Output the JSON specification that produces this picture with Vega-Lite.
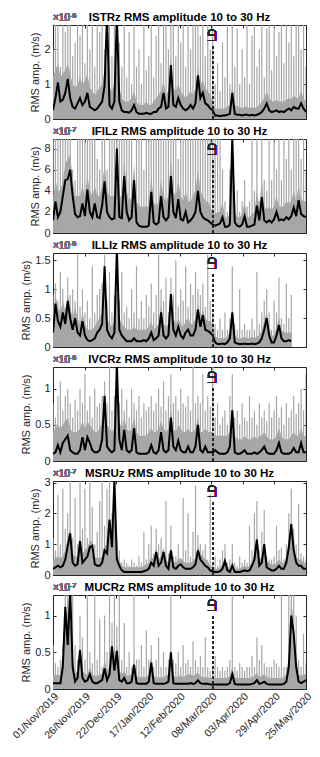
{
"$schema": "https://vega.github.io/schema/vega-lite/v6.json",
"padding": {"left": 10, "top": 11, "right": 13, "bottom": 2},
"background": "white",
"config": {
  "view": {"stroke": "#262626", "strokeWidth": 1},
  "font": "Liberation Sans",
  "axis": {"labelFont": "Liberation Sans", "labelFontSize": 11, "labelColor": "#262626", "titleFont": "Liberation Sans", "titleFontSize": 11, "titleFontWeight": "normal", "titleColor": "#262626", "tickColor": "#262626", "grid": false, "domain": false, "tickSize": -3, "labelPadding": 6, "titlePadding": 3, "minExtent": 0, "labelOverlap": false},
  "title": {"font": "Liberation Sans", "fontSize": 11.5, "fontWeight": "bold", "color": "#000000", "offset": -11, "anchor": "middle", "frame": "group"}
},
"datasets": {"d": [
{"t":"2019-11-01","Am":0.25,"Au":1.2,"Ah":2,"Bm":1.2,"Bu":3,"Bh":9,"Cm":0.25,"Cu":0.6,"Ch":0.9,"Dm":0.1,"Du":0.4,"Dh":0.8,"Em":0.2,"Eu":0.5,"Eh":1.2,"Fm":0.08,"Fu":0.18,"Fh":0.6},
{"t":"2019-11-03","Am":0.6,"Au":1.4,"Ah":3,"Bm":3,"Bu":5,"Bh":9,"Cm":0.75,"Cu":0.9,"Ch":1.1,"Dm":0.12,"Du":0.45,"Dh":0.6,"Em":0.25,"Eu":0.55,"Eh":0.8,"Fm":0.08,"Fu":0.2,"Fh":0.35},
{"t":"2019-11-05","Am":1.05,"Au":1.6,"Ah":3,"Bm":1.5,"Bu":4,"Bh":9,"Cm":0.45,"Cu":0.7,"Ch":0.8,"Dm":0.22,"Du":0.5,"Dh":0.9,"Em":0.3,"Eu":0.6,"Eh":2.6,"Fm":0.08,"Fu":0.18,"Fh":0.3},
{"t":"2019-11-07","Am":0.5,"Au":1.2,"Ah":1.5,"Bm":2,"Bu":4,"Bh":9,"Cm":0.35,"Cu":0.6,"Ch":1.3,"Dm":0.12,"Du":0.45,"Dh":1.1,"Em":0.25,"Eu":0.55,"Eh":1,"Fm":0.08,"Fu":0.2,"Fh":0.4},
{"t":"2019-11-09","Am":0.55,"Au":1.3,"Ah":3,"Bm":3.5,"Bu":5,"Bh":9,"Cm":0.6,"Cu":0.8,"Ch":1,"Dm":0.25,"Du":0.5,"Dh":0.7,"Em":0.3,"Eu":0.6,"Eh":2.8,"Fm":0.3,"Fu":0.5,"Fh":0.6},
{"t":"2019-11-11","Am":0.75,"Au":1.4,"Ah":2.5,"Bm":5,"Bu":6.5,"Bh":9,"Cm":0.4,"Cu":0.6,"Ch":0.7,"Dm":0.3,"Du":0.55,"Dh":0.9,"Em":0.5,"Eu":0.8,"Eh":1.5,"Fm":1.12,"Fu":1.2,"Fh":1.3},
{"t":"2019-11-13","Am":1.15,"Au":1.6,"Ah":3,"Bm":5.1,"Bu":7,"Bh":9,"Cm":0.8,"Cu":0.9,"Ch":1.2,"Dm":0.35,"Du":0.6,"Dh":1,"Em":0.95,"Eu":1.2,"Eh":2,"Fm":0.6,"Fu":0.8,"Fh":1.3},
{"t":"2019-11-15","Am":0.6,"Au":1.3,"Ah":3,"Bm":6,"Bu":7.5,"Bh":9,"Cm":0.5,"Cu":0.7,"Ch":0.9,"Dm":0.15,"Du":0.45,"Dh":0.8,"Em":1.35,"Eu":1.5,"Eh":3.1,"Fm":1.35,"Fu":1.3,"Fh":0.8},
{"t":"2019-11-17","Am":0.35,"Au":1,"Ah":1.8,"Bm":3.5,"Bu":5,"Bh":6,"Cm":0.3,"Cu":0.5,"Ch":1,"Dm":0.12,"Du":0.4,"Dh":0.6,"Em":0.4,"Eu":0.7,"Eh":1.2,"Fm":0.3,"Fu":0.5,"Fh":1.3},
{"t":"2019-11-19","Am":0.3,"Au":0.9,"Ah":2.2,"Bm":1.8,"Bu":3.5,"Bh":5,"Cm":0.5,"Cu":0.7,"Ch":0.8,"Dm":0.1,"Du":0.4,"Dh":0.85,"Em":0.3,"Eu":0.6,"Eh":2.5,"Fm":0.1,"Fu":0.2,"Fh":0.6},
{"t":"2019-11-21","Am":0.45,"Au":1,"Ah":3,"Bm":1.5,"Bu":3.5,"Bh":9,"Cm":0.25,"Cu":0.5,"Ch":1.6,"Dm":0.1,"Du":0.4,"Dh":0.7,"Em":0.35,"Eu":0.6,"Eh":1,"Fm":0.15,"Fu":0.25,"Fh":0.4},
{"t":"2019-11-23","Am":0.6,"Au":1.2,"Ah":2.4,"Bm":1.6,"Bu":3.5,"Bh":9,"Cm":0.2,"Cu":0.4,"Ch":0.7,"Dm":0.15,"Du":0.45,"Dh":1,"Em":1.1,"Eu":1.3,"Eh":3.1,"Fm":0.53,"Fu":0.6,"Fh":1},
{"t":"2019-11-25","Am":0.4,"Au":1,"Ah":3,"Bm":2.8,"Bu":4.5,"Bh":9,"Cm":0.45,"Cu":0.6,"Ch":1,"Dm":0.33,"Du":0.55,"Dh":0.8,"Em":0.4,"Eu":0.7,"Eh":1.5,"Fm":0.15,"Fu":0.25,"Fh":0.7},
{"t":"2019-11-27","Am":0.5,"Au":1.1,"Ah":1.6,"Bm":1.6,"Bu":3.5,"Bh":9,"Cm":0.2,"Cu":0.4,"Ch":0.6,"Dm":0.15,"Du":0.45,"Dh":1.2,"Em":0.5,"Eu":0.8,"Eh":2.8,"Fm":0.1,"Fu":0.2,"Fh":0.4},
{"t":"2019-11-29","Am":0.75,"Au":1.3,"Ah":3,"Bm":4.1,"Bu":5.5,"Bh":9,"Cm":0.12,"Cu":0.3,"Ch":0.8,"Dm":0.33,"Du":0.55,"Dh":0.7,"Em":0.6,"Eu":0.9,"Eh":1.2,"Fm":0.12,"Fu":0.2,"Fh":1.3},
{"t":"2019-12-01","Am":0.35,"Au":0.9,"Ah":2,"Bm":2,"Bu":4,"Bh":9,"Cm":0.1,"Cu":0.3,"Ch":0.5,"Dm":0.25,"Du":0.5,"Dh":0.9,"Em":0.9,"Eu":1.1,"Eh":3.1,"Fm":0.2,"Fu":0.3,"Fh":0.5},
{"t":"2019-12-03","Am":0.3,"Au":0.8,"Ah":3,"Bm":1.5,"Bu":3.5,"Bh":9,"Cm":0.12,"Cu":0.3,"Ch":1.4,"Dm":0.15,"Du":0.45,"Dh":0.6,"Em":0.95,"Eu":1.1,"Eh":2.2,"Fm":0.1,"Fu":0.2,"Fh":0.35},
{"t":"2019-12-05","Am":0.25,"Au":0.7,"Ah":1.5,"Bm":2.8,"Bu":4.5,"Bh":9,"Cm":0.15,"Cu":0.35,"Ch":0.6,"Dm":0.12,"Du":0.4,"Dh":1,"Em":0.35,"Eu":0.6,"Eh":1,"Fm":0.08,"Fu":0.18,"Fh":1.3},
{"t":"2019-12-07","Am":0.3,"Au":0.8,"Ah":3,"Bm":1.5,"Bu":3.5,"Bh":7,"Cm":0.25,"Cu":0.45,"Ch":0.9,"Dm":0.12,"Du":0.4,"Dh":0.75,"Em":0.3,"Eu":0.55,"Eh":1.4,"Fm":0.08,"Fu":0.18,"Fh":0.4},
{"t":"2019-12-09","Am":0.4,"Au":0.9,"Ah":2.5,"Bm":1.4,"Bu":3.5,"Bh":6,"Cm":0.3,"Cu":0.5,"Ch":1,"Dm":0.15,"Du":0.45,"Dh":0.8,"Em":0.3,"Eu":0.55,"Eh":2.4,"Fm":0.1,"Fu":0.2,"Fh":0.95},
{"t":"2019-12-11","Am":0.5,"Au":1,"Ah":3,"Bm":2.6,"Bu":4.5,"Bh":9,"Cm":0.4,"Cu":0.6,"Ch":1.1,"Dm":0.3,"Du":0.55,"Dh":0.9,"Em":0.4,"Eu":0.6,"Eh":3.1,"Fm":0.12,"Fu":0.2,"Fh":0.3},
{"t":"2019-12-13","Am":0.95,"Au":1.4,"Ah":2,"Bm":4.9,"Bu":6.5,"Bh":9,"Cm":1.4,"Cu":1,"Ch":1.6,"Dm":0.9,"Du":1,"Dh":1.1,"Em":0.8,"Eu":1,"Eh":1.6,"Fm":0.28,"Fu":0.4,"Fh":1},
{"t":"2019-12-15","Am":3,"Au":1.5,"Ah":3,"Bm":2,"Bu":4,"Bh":6,"Cm":0.3,"Cu":0.5,"Ch":0.8,"Dm":0.2,"Du":0.5,"Dh":0.8,"Em":0.7,"Eu":0.9,"Eh":2.8,"Fm":0.12,"Fu":0.25,"Fh":0.5},
{"t":"2019-12-17","Am":0.4,"Au":0.9,"Ah":3,"Bm":1.5,"Bu":3.5,"Bh":9,"Cm":0.2,"Cu":0.4,"Ch":1.3,"Dm":0.15,"Du":0.45,"Dh":1.3,"Em":1.8,"Eu":1.9,"Eh":3.1,"Fm":0.2,"Fu":0.3,"Fh":1.3},
{"t":"2019-12-19","Am":0.3,"Au":0.8,"Ah":1.8,"Bm":1.3,"Bu":3.5,"Bh":9,"Cm":0.15,"Cu":0.35,"Ch":0.6,"Dm":0.12,"Du":0.4,"Dh":0.7,"Em":0.9,"Eu":1.1,"Eh":2,"Fm":0.58,"Fu":0.65,"Fh":0.9},
{"t":"2019-12-21","Am":0.5,"Au":1,"Ah":3,"Bm":1.4,"Bu":3.5,"Bh":9,"Cm":0.25,"Cu":0.45,"Ch":0.9,"Dm":0.15,"Du":0.45,"Dh":0.9,"Em":3.1,"Eu":2,"Eh":3.1,"Fm":0.25,"Fu":0.4,"Fh":1.3},
{"t":"2019-12-23","Am":3,"Au":1.5,"Ah":3,"Bm":8,"Bu":9,"Bh":9,"Cm":1.7,"Cu":1,"Ch":1.7,"Dm":1.35,"Du":1.2,"Dh":1.35,"Em":0.5,"Eu":0.7,"Eh":1.2,"Fm":0.52,"Fu":0.6,"Fh":0.85},
{"t":"2019-12-25","Am":0.5,"Au":0.9,"Ah":2.2,"Bm":1.5,"Bu":3.5,"Bh":9,"Cm":0.3,"Cu":0.5,"Ch":0.8,"Dm":0.3,"Du":0.55,"Dh":0.8,"Em":0.3,"Eu":0.5,"Eh":0.8,"Fm":0.12,"Fu":0.25,"Fh":1.3},
{"t":"2019-12-27","Am":0.25,"Au":0.6,"Ah":1.5,"Bm":1.4,"Bu":3.5,"Bh":9,"Cm":0.2,"Cu":0.4,"Ch":1.3,"Dm":0.15,"Du":0.45,"Dh":1,"Em":0.15,"Eu":0.3,"Eh":0.4,"Fm":0.1,"Fu":0.2,"Fh":0.4},
{"t":"2019-12-29","Am":0.2,"Au":0.5,"Ah":3,"Bm":5.4,"Bu":7,"Bh":9,"Cm":0.15,"Cu":0.35,"Ch":0.6,"Dm":0.43,"Du":0.6,"Dh":0.7,"Em":0.1,"Eu":0.25,"Eh":0.5,"Fm":0.15,"Fu":0.25,"Fh":0.9},
{"t":"2019-12-31","Am":0.2,"Au":0.5,"Ah":1.2,"Bm":2,"Bu":4,"Bh":9,"Cm":0.1,"Cu":0.3,"Ch":0.7,"Dm":0.15,"Du":0.45,"Dh":0.85,"Em":0.1,"Eu":0.25,"Eh":0.4,"Fm":0.08,"Fu":0.18,"Fh":0.3},
{"t":"2020-01-02","Am":0.18,"Au":0.5,"Ah":2.5,"Bm":1.2,"Bu":3,"Bh":9,"Cm":0.1,"Cu":0.3,"Ch":0.5,"Dm":0.12,"Du":0.4,"Dh":0.6,"Em":0.1,"Eu":0.25,"Eh":0.3,"Fm":0.08,"Fu":0.18,"Fh":0.5},
{"t":"2020-01-04","Am":0.25,"Au":0.6,"Ah":1,"Bm":1.5,"Bu":3.5,"Bh":9,"Cm":0.1,"Cu":0.3,"Ch":1,"Dm":0.15,"Du":0.45,"Dh":1,"Em":0.1,"Eu":0.25,"Eh":0.5,"Fm":0.1,"Fu":0.2,"Fh":0.3},
{"t":"2020-01-06","Am":0.4,"Au":0.8,"Ah":3,"Bm":5,"Bu":6.5,"Bh":5,"Cm":0.15,"Cu":0.35,"Ch":0.6,"Dm":0.45,"Du":0.6,"Dh":0.8,"Em":0.1,"Eu":0.25,"Eh":0.4,"Fm":0.33,"Fu":0.4,"Fh":1.3},
{"t":"2020-01-08","Am":0.2,"Au":0.5,"Ah":1.5,"Bm":1,"Bu":3,"Bh":9,"Cm":0.1,"Cu":0.3,"Ch":1.4,"Dm":0.12,"Du":0.4,"Dh":0.7,"Em":0.1,"Eu":0.25,"Eh":0.3,"Fm":0.08,"Fu":0.18,"Fh":0.4},
{"t":"2020-01-10","Am":0.15,"Au":0.4,"Ah":2,"Bm":0.7,"Bu":2.5,"Bh":9,"Cm":0.1,"Cu":0.3,"Ch":0.5,"Dm":0.1,"Du":0.35,"Dh":0.9,"Em":0.1,"Eu":0.25,"Eh":0.6,"Fm":0.07,"Fu":0.16,"Fh":0.4},
{"t":"2020-01-12","Am":0.15,"Au":0.4,"Ah":1,"Bm":0.6,"Bu":2.5,"Bh":9,"Cm":0.1,"Cu":0.3,"Ch":0.8,"Dm":0.1,"Du":0.35,"Dh":0.6,"Em":0.1,"Eu":0.25,"Eh":0.4,"Fm":0.07,"Fu":0.16,"Fh":0.6},
{"t":"2020-01-14","Am":0.15,"Au":0.4,"Ah":3,"Bm":0.6,"Bu":2.5,"Bh":6,"Cm":0.12,"Cu":0.3,"Ch":0.5,"Dm":0.1,"Du":0.35,"Dh":0.8,"Em":0.12,"Eu":0.3,"Eh":1.4,"Fm":0.07,"Fu":0.16,"Fh":0.3},
{"t":"2020-01-16","Am":0.18,"Au":0.5,"Ah":1.4,"Bm":0.6,"Bu":2.5,"Bh":9,"Cm":0.1,"Cu":0.3,"Ch":0.9,"Dm":0.1,"Du":0.35,"Dh":0.7,"Em":0.15,"Eu":0.35,"Eh":0.5,"Fm":0.07,"Fu":0.16,"Fh":0.8},
{"t":"2020-01-18","Am":0.15,"Au":0.4,"Ah":1.8,"Bm":0.7,"Bu":2.5,"Bh":9,"Cm":0.15,"Cu":0.35,"Ch":0.7,"Dm":0.12,"Du":0.4,"Dh":0.75,"Em":0.2,"Eu":0.4,"Eh":1,"Fm":0.1,"Fu":0.2,"Fh":0.4},
{"t":"2020-01-20","Am":0.15,"Au":0.4,"Ah":3,"Bm":3.9,"Bu":5.5,"Bh":9,"Cm":0.25,"Cu":0.45,"Ch":1.1,"Dm":0.22,"Du":0.45,"Dh":0.9,"Em":0.4,"Eu":0.6,"Eh":1.6,"Fm":0.36,"Fu":0.45,"Fh":0.6},
{"t":"2020-01-22","Am":0.2,"Au":0.5,"Ah":1.2,"Bm":1,"Bu":3,"Bh":9,"Cm":0.12,"Cu":0.3,"Ch":0.6,"Dm":0.12,"Du":0.4,"Dh":0.7,"Em":0.3,"Eu":0.5,"Eh":0.7,"Fm":0.08,"Fu":0.18,"Fh":0.3},
{"t":"2020-01-24","Am":0.2,"Au":0.6,"Ah":2.4,"Bm":0.8,"Bu":2.5,"Bh":9,"Cm":0.15,"Cu":0.35,"Ch":0.9,"Dm":0.1,"Du":0.4,"Dh":0.8,"Em":0.75,"Eu":0.9,"Eh":1.5,"Fm":0.07,"Fu":0.16,"Fh":0.4},
{"t":"2020-01-26","Am":0.3,"Au":0.7,"Ah":3,"Bm":1,"Bu":3,"Bh":9,"Cm":0.2,"Cu":0.4,"Ch":1.6,"Dm":0.15,"Du":0.45,"Dh":1,"Em":0.3,"Eu":0.5,"Eh":1,"Fm":0.07,"Fu":0.16,"Fh":0.7},
{"t":"2020-01-28","Am":0.35,"Au":0.8,"Ah":1.6,"Bm":3.5,"Bu":5,"Bh":9,"Cm":0.6,"Cu":0.75,"Ch":1,"Dm":0.4,"Du":0.55,"Dh":0.75,"Em":0.4,"Eu":0.6,"Eh":1.2,"Fm":0.07,"Fu":0.16,"Fh":0.3},
{"t":"2020-01-30","Am":0.75,"Au":1.1,"Ah":3,"Bm":1.5,"Bu":3.5,"Bh":9,"Cm":0.2,"Cu":0.4,"Ch":0.8,"Dm":0.15,"Du":0.45,"Dh":1.1,"Em":0.75,"Eu":0.9,"Eh":0.6,"Fm":0.07,"Fu":0.16,"Fh":0.5},
{"t":"2020-02-01","Am":0.3,"Au":0.7,"Ah":3,"Bm":1.2,"Bu":3,"Bh":9,"Cm":0.15,"Cu":0.35,"Ch":1.2,"Dm":0.12,"Du":0.4,"Dh":0.7,"Em":0.3,"Eu":0.5,"Eh":2.4,"Fm":0.08,"Fu":0.18,"Fh":0.3},
{"t":"2020-02-03","Am":0.35,"Au":0.8,"Ah":2,"Bm":1.5,"Bu":3.5,"Bh":9,"Cm":0.2,"Cu":0.4,"Ch":0.6,"Dm":0.15,"Du":0.45,"Dh":0.9,"Em":0.2,"Eu":0.4,"Eh":0.7,"Fm":0.1,"Fu":0.2,"Fh":0.4},
{"t":"2020-02-05","Am":1.55,"Au":1.8,"Ah":3,"Bm":5.4,"Bu":7,"Bh":9,"Cm":0.92,"Cu":0.9,"Ch":1.2,"Dm":0.6,"Du":0.7,"Dh":1.2,"Em":0.8,"Eu":0.9,"Eh":1.6,"Fm":0.5,"Fu":0.55,"Fh":1.3},
{"t":"2020-02-07","Am":0.4,"Au":0.9,"Ah":3,"Bm":2,"Bu":4,"Bh":9,"Cm":0.3,"Cu":0.5,"Ch":0.9,"Dm":0.2,"Du":0.45,"Dh":0.8,"Em":0.25,"Eu":0.45,"Eh":0.6,"Fm":0.08,"Fu":0.18,"Fh":0.4},
{"t":"2020-02-09","Am":0.35,"Au":0.8,"Ah":1.8,"Bm":1.4,"Bu":3.5,"Bh":9,"Cm":0.2,"Cu":0.4,"Ch":1.5,"Dm":0.15,"Du":0.4,"Dh":0.9,"Em":0.2,"Eu":0.4,"Eh":0.6,"Fm":0.07,"Fu":0.16,"Fh":0.35},
{"t":"2020-02-11","Am":0.6,"Au":1,"Ah":3,"Bm":3.2,"Bu":5,"Bh":7,"Cm":0.35,"Cu":0.5,"Ch":0.7,"Dm":0.28,"Du":0.5,"Dh":0.7,"Em":0.3,"Eu":0.5,"Eh":1,"Fm":0.07,"Fu":0.18,"Fh":0.5},
{"t":"2020-02-13","Am":0.4,"Au":0.8,"Ah":2.2,"Bm":1.3,"Bu":3.5,"Bh":9,"Cm":0.2,"Cu":0.4,"Ch":1,"Dm":0.15,"Du":0.45,"Dh":1,"Em":0.35,"Eu":0.55,"Eh":0.5,"Fm":0.07,"Fu":0.18,"Fh":0.3},
{"t":"2020-02-15","Am":0.3,"Au":0.7,"Ah":3,"Bm":1.2,"Bu":3,"Bh":9,"Cm":0.15,"Cu":0.35,"Ch":0.8,"Dm":0.12,"Du":0.4,"Dh":0.8,"Em":0.25,"Eu":0.45,"Eh":2.5,"Fm":0.07,"Fu":0.16,"Fh":0.6},
{"t":"2020-02-17","Am":0.25,"Au":0.6,"Ah":1.5,"Bm":2,"Bu":4,"Bh":9,"Cm":0.25,"Cu":0.45,"Ch":1.4,"Dm":0.12,"Du":0.4,"Dh":0.75,"Em":0.2,"Eu":0.4,"Eh":0.8,"Fm":0.07,"Fu":0.18,"Fh":0.35},
{"t":"2020-02-19","Am":0.3,"Au":0.7,"Ah":3,"Bm":1,"Bu":3,"Bh":9,"Cm":0.3,"Cu":0.5,"Ch":0.7,"Dm":0.2,"Du":0.45,"Dh":0.9,"Em":0.2,"Eu":0.4,"Eh":2,"Fm":0.07,"Fu":0.2,"Fh":0.4},
{"t":"2020-02-21","Am":0.4,"Au":0.8,"Ah":2,"Bm":1.2,"Bu":3,"Bh":9,"Cm":0.2,"Cu":0.4,"Ch":1.1,"Dm":0.12,"Du":0.4,"Dh":0.7,"Em":0.2,"Eu":0.4,"Eh":0.6,"Fm":0.08,"Fu":0.2,"Fh":0.3},
{"t":"2020-02-23","Am":0.3,"Au":0.7,"Ah":3,"Bm":1.5,"Bu":3.5,"Bh":9,"Cm":0.2,"Cu":0.4,"Ch":0.9,"Dm":0.12,"Du":0.4,"Dh":1.3,"Em":0.25,"Eu":0.45,"Eh":1.4,"Fm":0.07,"Fu":0.18,"Fh":0.65},
{"t":"2020-02-25","Am":0.45,"Au":0.9,"Ah":3,"Bm":2,"Bu":4,"Bh":9,"Cm":0.3,"Cu":0.5,"Ch":1.3,"Dm":0.2,"Du":0.45,"Dh":0.8,"Em":0.35,"Eu":0.55,"Eh":2.9,"Fm":0.08,"Fu":0.2,"Fh":0.4},
{"t":"2020-02-27","Am":1.25,"Au":1.5,"Ah":3,"Bm":4,"Bu":6,"Bh":9,"Cm":0.65,"Cu":0.75,"Ch":1,"Dm":0.5,"Du":0.6,"Dh":0.9,"Em":0.8,"Eu":0.95,"Eh":1.3,"Fm":0.12,"Fu":0.22,"Fh":0.3},
{"t":"2020-02-29","Am":0.6,"Au":1,"Ah":2.4,"Bm":2,"Bu":4,"Bh":9,"Cm":0.35,"Cu":0.5,"Ch":0.9,"Dm":0.15,"Du":0.4,"Dh":0.8,"Em":0.5,"Eu":0.7,"Eh":1,"Fm":0.08,"Fu":0.18,"Fh":0.45},
{"t":"2020-03-02","Am":0.75,"Au":1.1,"Ah":3,"Bm":1.5,"Bu":3.5,"Bh":9,"Cm":0.55,"Cu":0.65,"Ch":1.1,"Dm":0.12,"Du":0.4,"Dh":1.2,"Em":0.4,"Eu":0.6,"Eh":0.8,"Fm":0.07,"Fu":0.16,"Fh":0.3},
{"t":"2020-03-04","Am":0.45,"Au":0.9,"Ah":1.8,"Bm":1.3,"Bu":3,"Bh":9,"Cm":0.3,"Cu":0.5,"Ch":0.7,"Dm":0.2,"Du":0.45,"Dh":0.7,"Em":0.3,"Eu":0.5,"Eh":1,"Fm":0.07,"Fu":0.16,"Fh":0.7},
{"t":"2020-03-06","Am":0.4,"Au":0.8,"Ah":3,"Bm":1.2,"Bu":3,"Bh":9,"Cm":0.28,"Cu":0.45,"Ch":1.6,"Dm":0.12,"Du":0.4,"Dh":0.9,"Em":0.25,"Eu":0.45,"Eh":0.5,"Fm":0.07,"Fu":0.16,"Fh":0.3},
{"t":"2020-03-08","Am":0.3,"Au":0.7,"Ah":2,"Bm":1,"Bu":2.5,"Bh":9,"Cm":0.25,"Cu":0.45,"Ch":0.8,"Dm":0.12,"Du":0.4,"Dh":0.75,"Em":0.15,"Eu":0.3,"Eh":2.6,"Fm":0.06,"Fu":0.15,"Fh":0.25},
{"t":"2020-03-10","Am":0.25,"Au":0.5,"Ah":3,"Bm":0.8,"Bu":2,"Bh":9,"Cm":0.2,"Cu":0.4,"Ch":0.6,"Dm":0.12,"Du":0.4,"Dh":1.3,"Em":0.12,"Eu":0.25,"Eh":0.4,"Fm":0.06,"Fu":0.15,"Fh":0.3},
{"t":"2020-03-12","Am":0.1,"Au":0.3,"Ah":1,"Bm":0.7,"Bu":1.8,"Bh":9,"Cm":0.08,"Cu":0.2,"Ch":0.4,"Dm":0.15,"Du":0.35,"Dh":0.6,"Em":0.1,"Eu":0.2,"Eh":0.6,"Fm":0.06,"Fu":0.15,"Fh":0.45},
{"t":"2020-03-14","Am":0.1,"Au":0.3,"Ah":1.6,"Bm":0.8,"Bu":2,"Bh":9,"Cm":0.05,"Cu":0.15,"Ch":0.3,"Dm":0.12,"Du":0.35,"Dh":0.8,"Em":0.1,"Eu":0.2,"Eh":0.3,"Fm":0.06,"Fu":0.15,"Fh":0.3},
{"t":"2020-03-16","Am":0.08,"Au":0.3,"Ah":0.8,"Bm":0.9,"Bu":2,"Bh":9,"Cm":0.05,"Cu":0.15,"Ch":0.5,"Dm":0.1,"Du":0.35,"Dh":0.5,"Em":0.12,"Eu":0.25,"Eh":0.5,"Fm":0.06,"Fu":0.15,"Fh":0.25},
{"t":"2020-03-18","Am":0.1,"Au":0.3,"Ah":2.2,"Bm":1.5,"Bu":3,"Bh":6,"Cm":0.06,"Cu":0.15,"Ch":0.3,"Dm":0.1,"Du":0.35,"Dh":0.6,"Em":0.2,"Eu":0.35,"Eh":0.8,"Fm":0.06,"Fu":0.15,"Fh":0.3},
{"t":"2020-03-20","Am":0.1,"Au":0.3,"Ah":1.2,"Bm":0.6,"Bu":1.5,"Bh":3,"Cm":0.05,"Cu":0.15,"Ch":0.6,"Dm":0.1,"Du":0.35,"Dh":0.7,"Em":0.45,"Eu":0.6,"Eh":1,"Fm":0.06,"Fu":0.15,"Fh":0.25},
{"t":"2020-03-22","Am":0.12,"Au":0.35,"Ah":2.8,"Bm":0.6,"Bu":1.5,"Bh":2,"Cm":0.08,"Cu":0.18,"Ch":0.3,"Dm":0.12,"Du":0.35,"Dh":0.5,"Em":0.15,"Eu":0.3,"Eh":0.4,"Fm":0.06,"Fu":0.15,"Fh":0.3},
{"t":"2020-03-24","Am":0.15,"Au":0.4,"Ah":1,"Bm":0.8,"Bu":1.8,"Bh":6,"Cm":0.15,"Cu":0.25,"Ch":0.5,"Dm":0.2,"Du":0.4,"Dh":0.9,"Em":0.1,"Eu":0.2,"Eh":0.5,"Fm":0.08,"Fu":0.18,"Fh":0.4},
{"t":"2020-03-26","Am":0.75,"Au":1,"Ah":3,"Bm":9,"Bu":9,"Bh":9,"Cm":0.6,"Cu":0.6,"Ch":1.4,"Dm":0.7,"Du":0.8,"Dh":1.2,"Em":0.3,"Eu":0.45,"Eh":1,"Fm":0.2,"Fu":0.3,"Fh":1.3},
{"t":"2020-03-28","Am":0.15,"Au":0.4,"Ah":1.5,"Bm":1,"Bu":2,"Bh":2.5,"Cm":0.08,"Cu":0.2,"Ch":0.4,"Dm":0.12,"Du":0.35,"Dh":0.6,"Em":0.1,"Eu":0.2,"Eh":0.4,"Fm":0.07,"Fu":0.16,"Fh":0.3},
{"t":"2020-03-30","Am":0.12,"Au":0.35,"Ah":2.6,"Bm":0.7,"Bu":1.5,"Bh":4,"Cm":0.06,"Cu":0.15,"Ch":0.3,"Dm":0.1,"Du":0.3,"Dh":0.7,"Em":0.1,"Eu":0.2,"Eh":0.3,"Fm":0.06,"Fu":0.15,"Fh":0.25},
{"t":"2020-04-01","Am":0.12,"Au":0.35,"Ah":1,"Bm":0.6,"Bu":1.5,"Bh":2,"Cm":0.05,"Cu":0.15,"Ch":1,"Dm":0.1,"Du":0.3,"Dh":0.5,"Em":0.1,"Eu":0.2,"Eh":0.6,"Fm":0.06,"Fu":0.15,"Fh":0.35},
{"t":"2020-04-03","Am":0.1,"Au":0.3,"Ah":2,"Bm":0.8,"Bu":1.8,"Bh":3,"Cm":0.05,"Cu":0.15,"Ch":0.3,"Dm":0.12,"Du":0.3,"Dh":0.8,"Em":0.12,"Eu":0.25,"Eh":0.4,"Fm":0.06,"Fu":0.15,"Fh":0.3},
{"t":"2020-04-05","Am":0.12,"Au":0.35,"Ah":1.2,"Bm":1.6,"Bu":3,"Bh":5,"Cm":0.06,"Cu":0.18,"Ch":0.4,"Dm":0.15,"Du":0.35,"Dh":0.6,"Em":0.15,"Eu":0.3,"Eh":0.5,"Fm":0.06,"Fu":0.15,"Fh":0.25},
{"t":"2020-04-07","Am":0.12,"Au":0.35,"Ah":3,"Bm":0.6,"Bu":1.5,"Bh":2.5,"Cm":0.05,"Cu":0.15,"Ch":0.3,"Dm":0.1,"Du":0.3,"Dh":0.55,"Em":0.12,"Eu":0.25,"Eh":0.4,"Fm":0.06,"Fu":0.15,"Fh":0.3},
{"t":"2020-04-09","Am":0.1,"Au":0.3,"Ah":1,"Bm":0.6,"Bu":1.5,"Bh":3,"Cm":0.05,"Cu":0.15,"Ch":0.3,"Dm":0.1,"Du":0.3,"Dh":0.9,"Em":0.15,"Eu":0.3,"Eh":1.6,"Fm":0.06,"Fu":0.15,"Fh":0.3},
{"t":"2020-04-11","Am":0.12,"Au":0.35,"Ah":2.4,"Bm":0.7,"Bu":1.8,"Bh":9,"Cm":0.06,"Cu":0.18,"Ch":0.5,"Dm":0.1,"Du":0.3,"Dh":0.6,"Em":0.3,"Eu":0.45,"Eh":0.8,"Fm":0.07,"Fu":0.16,"Fh":0.45},
{"t":"2020-04-13","Am":0.1,"Au":0.3,"Ah":3,"Bm":0.8,"Bu":2,"Bh":4,"Cm":0.05,"Cu":0.15,"Ch":0.3,"Dm":0.12,"Du":0.35,"Dh":0.7,"Em":0.5,"Eu":0.7,"Eh":2,"Fm":0.08,"Fu":0.18,"Fh":0.3},
{"t":"2020-04-15","Am":0.12,"Au":0.35,"Ah":1.5,"Bm":2.6,"Bu":4,"Bh":9,"Cm":0.06,"Cu":0.18,"Ch":1.3,"Dm":0.1,"Du":0.3,"Dh":0.5,"Em":1.15,"Eu":1.3,"Eh":2.4,"Fm":0.12,"Fu":0.22,"Fh":0.7},
{"t":"2020-04-17","Am":0.15,"Au":0.4,"Ah":2,"Bm":1.2,"Bu":2.5,"Bh":3,"Cm":0.08,"Cu":0.2,"Ch":0.4,"Dm":0.12,"Du":0.35,"Dh":0.8,"Em":0.3,"Eu":0.5,"Eh":0.8,"Fm":0.07,"Fu":0.16,"Fh":0.4},
{"t":"2020-04-19","Am":0.2,"Au":0.5,"Ah":3,"Bm":3.4,"Bu":5,"Bh":9,"Cm":0.15,"Cu":0.3,"Ch":0.6,"Dm":0.15,"Du":0.35,"Dh":0.6,"Em":0.4,"Eu":0.6,"Eh":1.4,"Fm":0.08,"Fu":0.18,"Fh":0.6},
{"t":"2020-04-21","Am":0.3,"Au":0.6,"Ah":1.2,"Bm":1.2,"Bu":2.5,"Bh":5,"Cm":0.3,"Cu":0.45,"Ch":0.8,"Dm":0.2,"Du":0.4,"Dh":0.7,"Em":1,"Eu":1.1,"Eh":2.1,"Fm":0.1,"Fu":0.2,"Fh":0.35},
{"t":"2020-04-23","Am":0.45,"Au":0.8,"Ah":2.6,"Bm":1,"Bu":2.2,"Bh":4,"Cm":0.5,"Cu":0.6,"Ch":1,"Dm":0.12,"Du":0.35,"Dh":0.55,"Em":0.25,"Eu":0.45,"Eh":0.6,"Fm":0.07,"Fu":0.16,"Fh":0.3},
{"t":"2020-04-25","Am":0.25,"Au":0.6,"Ah":3,"Bm":1.2,"Bu":2.5,"Bh":9,"Cm":0.2,"Cu":0.35,"Ch":0.6,"Dm":0.1,"Du":0.3,"Dh":0.8,"Em":0.2,"Eu":0.4,"Eh":0.5,"Fm":0.06,"Fu":0.15,"Fh":0.3},
{"t":"2020-04-27","Am":0.2,"Au":0.5,"Ah":1.4,"Bm":1,"Bu":2.2,"Bh":5,"Cm":0.08,"Cu":0.2,"Ch":0.3,"Dm":0.1,"Du":0.3,"Dh":0.6,"Em":0.15,"Eu":0.35,"Eh":0.5,"Fm":0.06,"Fu":0.15,"Fh":0.3},
{"t":"2020-04-29","Am":0.22,"Au":0.5,"Ah":3,"Bm":1.3,"Bu":2.5,"Bh":9,"Cm":0.08,"Cu":0.2,"Ch":0.8,"Dm":0.1,"Du":0.3,"Dh":0.7,"Em":0.15,"Eu":0.35,"Eh":0.6,"Fm":0.06,"Fu":0.15,"Fh":0.4},
{"t":"2020-05-01","Am":0.25,"Au":0.55,"Ah":1.8,"Bm":2,"Bu":3.5,"Bh":6,"Cm":0.2,"Cu":0.35,"Ch":0.6,"Dm":0.15,"Du":0.35,"Dh":0.9,"Em":0.2,"Eu":0.4,"Eh":1.6,"Fm":0.06,"Fu":0.15,"Fh":0.35},
{"t":"2020-05-03","Am":0.2,"Au":0.5,"Ah":2.5,"Bm":1.2,"Bu":2.5,"Bh":9,"Cm":0.38,"Cu":0.5,"Ch":1.2,"Dm":0.25,"Du":0.45,"Dh":0.6,"Em":0.3,"Eu":0.5,"Eh":0.8,"Fm":0.06,"Fu":0.15,"Fh":0.3},
{"t":"2020-05-05","Am":0.22,"Au":0.5,"Ah":3,"Bm":1.3,"Bu":2.5,"Bh":5,"Cm":0.15,"Cu":0.3,"Ch":0.5,"Dm":0.12,"Du":0.35,"Dh":0.75,"Em":0.2,"Eu":0.4,"Eh":0.9,"Fm":0.06,"Fu":0.15,"Fh":1.3},
{"t":"2020-05-07","Am":0.2,"Au":0.5,"Ah":1.6,"Bm":1.2,"Bu":2.5,"Bh":9,"Cm":0.1,"Cu":0.25,"Ch":0.4,"Dm":0.1,"Du":0.3,"Dh":0.5,"Em":0.2,"Eu":0.4,"Eh":0.5,"Fm":0.07,"Fu":0.16,"Fh":0.3},
{"t":"2020-05-09","Am":0.25,"Au":0.55,"Ah":3,"Bm":1.5,"Bu":3,"Bh":7,"Cm":0.1,"Cu":0.25,"Ch":1.1,"Dm":0.1,"Du":0.3,"Dh":0.8,"Em":0.4,"Eu":0.6,"Eh":1,"Fm":0.1,"Fu":0.2,"Fh":0.3},
{"t":"2020-05-11","Am":0.3,"Au":0.6,"Ah":2.2,"Bm":1.3,"Bu":2.8,"Bh":9,"Cm":0.12,"Cu":0.25,"Ch":0.5,"Dm":0.1,"Du":0.3,"Dh":0.6,"Em":0.9,"Eu":1,"Eh":2,"Fm":0.3,"Fu":0.45,"Fh":1.3},
{"t":"2020-05-13","Am":0.25,"Au":0.55,"Ah":3,"Bm":1.6,"Bu":3,"Bh":6,"Cm":0.1,"Cu":0.25,"Ch":0.9,"Dm":0.12,"Du":0.35,"Dh":0.7,"Em":1.65,"Eu":1.8,"Eh":2.8,"Fm":1,"Fu":1.2,"Fh":1.3},
{"t":"2020-05-15","Am":0.35,"Au":0.7,"Ah":1.8,"Bm":2.4,"Bu":4,"Bh":9,"Dm":0.18,"Du":0.4,"Dh":0.9,"Em":0.8,"Eu":1,"Eh":1.5,"Fm":0.75,"Fu":0.9,"Fh":1.3},
{"t":"2020-05-17","Am":0.3,"Au":0.6,"Ah":3,"Bm":1.6,"Bu":3,"Bh":9,"Dm":0.12,"Du":0.35,"Dh":0.65,"Em":0.4,"Eu":0.6,"Eh":1,"Fm":0.3,"Fu":0.45,"Fh":1},
{"t":"2020-05-19","Am":0.3,"Au":0.6,"Ah":3,"Bm":3.1,"Bu":4.5,"Bh":9,"Dm":0.12,"Du":0.35,"Dh":0.8,"Em":0.3,"Eu":0.5,"Eh":2.3,"Fm":0.1,"Fu":0.2,"Fh":0.4},
{"t":"2020-05-21","Am":0.45,"Au":0.8,"Ah":2,"Bm":1.8,"Bu":3.2,"Bh":7,"Dm":0.25,"Du":0.45,"Dh":1,"Em":0.3,"Eu":0.5,"Eh":0.7,"Fm":0.08,"Fu":0.18,"Fh":0.3},
{"t":"2020-05-23","Am":0.3,"Au":0.6,"Ah":3,"Bm":1.6,"Bu":3,"Bh":9,"Dm":0.12,"Du":0.35,"Dh":0.7,"Em":0.2,"Eu":0.4,"Eh":0.6,"Fm":0.1,"Fu":0.2,"Fh":0.75},
{"t":"2020-05-25","Am":0.2,"Au":0.5,"Ah":1.5,"Bm":1.5,"Bu":3,"Bh":6,"Dm":0.12,"Du":0.35,"Dh":1.2,"Em":0.2,"Eu":0.4,"Eh":0.5,"Fm":0.12,"Fu":0.2,"Fh":0.35}
]},
"spacing": 0,
"vconcat": [
{"width": 253, "height": 94, "data": {"name": "d"},
 "title": {"text": "ISTRz RMS amplitude 10 to 30 Hz"},
 "resolve": {"axis": {"x": "independent", "y": "independent"}},
 "layer": [
  {"mark": {"type": "area", "color": "#a6a6a6", "clip": true},
   "encoding": {"x": {"field": "t", "type": "temporal", "scale": {"type": "utc", "nice": false, "domain": [{"year": 2019, "month": 11, "date": 1, "utc": true}, {"year": 2020, "month": 5, "date": 25, "utc": true}]}, "axis": {"orient": "bottom", "labels": false, "title": null, "values": [{"year":2019,"month":11,"date":1,"utc":true},{"year":2019,"month":11,"date":26,"hours":18,"utc":true},{"year":2019,"month":12,"date":22,"hours":12,"utc":true},{"year":2020,"month":1,"date":17,"hours":6,"utc":true},{"year":2020,"month":2,"date":12,"utc":true},{"year":2020,"month":3,"date":8,"hours":18,"utc":true},{"year":2020,"month":4,"date":3,"hours":12,"utc":true},{"year":2020,"month":4,"date":29,"hours":6,"utc":true},{"year":2020,"month":5,"date":25,"utc":true}]}},
    "y": {"field": "Au", "type": "quantitative", "scale": {"domain": [0, 2.7], "nice": false}, "axis": {"title": "RMS amp. (m/s)", "values": [0, 1, 2], "format": "~g"}}}},
  {"mark": {"type": "rule", "color": "#a8a8a8", "strokeWidth": 1.2, "clip": true},
   "encoding": {"x": {"field": "t", "type": "temporal", "scale": {"type": "utc", "nice": false, "domain": [{"year": 2019, "month": 11, "date": 1, "utc": true}, {"year": 2020, "month": 5, "date": 25, "utc": true}]}, "axis": {"orient": "top", "labels": false, "title": null, "values": [{"year":2019,"month":11,"date":1,"utc":true},{"year":2019,"month":11,"date":26,"hours":18,"utc":true},{"year":2019,"month":12,"date":22,"hours":12,"utc":true},{"year":2020,"month":1,"date":17,"hours":6,"utc":true},{"year":2020,"month":2,"date":12,"utc":true},{"year":2020,"month":3,"date":8,"hours":18,"utc":true},{"year":2020,"month":4,"date":3,"hours":12,"utc":true},{"year":2020,"month":4,"date":29,"hours":6,"utc":true},{"year":2020,"month":5,"date":25,"utc":true}]}},
    "y": {"field": "Ah", "type": "quantitative", "scale": {"domain": [0, 2.7], "nice": false}, "axis": {"orient": "right", "labels": false, "title": null, "values": [0, 1, 2]}},
    "y2": {"datum": 0}}},
  {"mark": {"type": "line", "color": "#000000", "strokeWidth": 2, "clip": true},
   "encoding": {"x": {"field": "t", "type": "temporal", "axis": null}, "y": {"field": "Am", "type": "quantitative", "axis": null}}},
  {"mark": {"type": "rule", "color": "#262626", "strokeWidth": 1, "strokeDash": [3, 2]},
   "encoding": {"x": {"datum": {"year": 2020, "month": 3, "date": 10, "utc": true}, "type": "temporal", "axis": null}, "y": {"datum": 0, "type": "quantitative", "axis": null}, "y2": {"datum": 2.13}}},
  {"mark": {"type": "text", "text": "LD", "angle": -90, "align": "right", "baseline": "middle", "fontSize": 10, "dx": -4, "color": "#262626"},
   "encoding": {"x": {"datum": {"year": 2020, "month": 3, "date": 10, "utc": true}, "type": "temporal", "axis": null}, "y": {"datum": 2.7, "type": "quantitative", "axis": null}}},
  {"mark": {"type": "text", "text": "×10", "align": "left", "baseline": "bottom", "fontSize": 10, "dy": -2, "color": "#707070"},
   "encoding": {"x": {"datum": {"year": 2019, "month": 11, "date": 1, "utc": true}, "type": "temporal", "axis": null}, "y": {"datum": 2.7, "type": "quantitative", "axis": null}}},
  {"mark": {"type": "text", "text": "-6", "align": "left", "baseline": "bottom", "fontSize": 7, "dx": 17, "dy": -6, "color": "#707070"},
   "encoding": {"x": {"datum": {"year": 2019, "month": 11, "date": 1, "utc": true}, "type": "temporal", "axis": null}, "y": {"datum": 2.7, "type": "quantitative", "axis": null}}}
 ]},
{"width": 253, "height": 94, "data": {"name": "d"},
 "title": {"text": "IFILz RMS amplitude 10 to 30 Hz"},
 "resolve": {"axis": {"x": "independent", "y": "independent"}},
 "layer": [
  {"mark": {"type": "area", "color": "#a6a6a6", "clip": true},
   "encoding": {"x": {"field": "t", "type": "temporal", "scale": {"type": "utc", "nice": false, "domain": [{"year": 2019, "month": 11, "date": 1, "utc": true}, {"year": 2020, "month": 5, "date": 25, "utc": true}]}, "axis": {"orient": "bottom", "labels": false, "title": null, "values": [{"year":2019,"month":11,"date":1,"utc":true},{"year":2019,"month":11,"date":26,"hours":18,"utc":true},{"year":2019,"month":12,"date":22,"hours":12,"utc":true},{"year":2020,"month":1,"date":17,"hours":6,"utc":true},{"year":2020,"month":2,"date":12,"utc":true},{"year":2020,"month":3,"date":8,"hours":18,"utc":true},{"year":2020,"month":4,"date":3,"hours":12,"utc":true},{"year":2020,"month":4,"date":29,"hours":6,"utc":true},{"year":2020,"month":5,"date":25,"utc":true}]}},
    "y": {"field": "Bu", "type": "quantitative", "scale": {"domain": [0, 8.9], "nice": false}, "axis": {"title": "RMS amp. (m/s)", "values": [0, 2, 4, 6, 8], "format": "~g"}}}},
  {"mark": {"type": "rule", "color": "#a8a8a8", "strokeWidth": 1.2, "clip": true},
   "encoding": {"x": {"field": "t", "type": "temporal", "scale": {"type": "utc", "nice": false, "domain": [{"year": 2019, "month": 11, "date": 1, "utc": true}, {"year": 2020, "month": 5, "date": 25, "utc": true}]}, "axis": {"orient": "top", "labels": false, "title": null, "values": [{"year":2019,"month":11,"date":1,"utc":true},{"year":2019,"month":11,"date":26,"hours":18,"utc":true},{"year":2019,"month":12,"date":22,"hours":12,"utc":true},{"year":2020,"month":1,"date":17,"hours":6,"utc":true},{"year":2020,"month":2,"date":12,"utc":true},{"year":2020,"month":3,"date":8,"hours":18,"utc":true},{"year":2020,"month":4,"date":3,"hours":12,"utc":true},{"year":2020,"month":4,"date":29,"hours":6,"utc":true},{"year":2020,"month":5,"date":25,"utc":true}]}},
    "y": {"field": "Bh", "type": "quantitative", "scale": {"domain": [0, 8.9], "nice": false}, "axis": {"orient": "right", "labels": false, "title": null, "values": [0, 2, 4, 6, 8]}},
    "y2": {"datum": 0}}},
  {"mark": {"type": "line", "color": "#000000", "strokeWidth": 2, "clip": true},
   "encoding": {"x": {"field": "t", "type": "temporal", "axis": null}, "y": {"field": "Bm", "type": "quantitative", "axis": null}}},
  {"mark": {"type": "rule", "color": "#262626", "strokeWidth": 1, "strokeDash": [3, 2]},
   "encoding": {"x": {"datum": {"year": 2020, "month": 3, "date": 10, "utc": true}, "type": "temporal", "axis": null}, "y": {"datum": 0, "type": "quantitative", "axis": null}, "y2": {"datum": 7.0}}},
  {"mark": {"type": "text", "text": "LD", "angle": -90, "align": "right", "baseline": "middle", "fontSize": 10, "dx": -4, "color": "#262626"},
   "encoding": {"x": {"datum": {"year": 2020, "month": 3, "date": 10, "utc": true}, "type": "temporal", "axis": null}, "y": {"datum": 8.9, "type": "quantitative", "axis": null}}},
  {"mark": {"type": "text", "text": "×10", "align": "left", "baseline": "bottom", "fontSize": 10, "dy": -2, "color": "#707070"},
   "encoding": {"x": {"datum": {"year": 2019, "month": 11, "date": 1, "utc": true}, "type": "temporal", "axis": null}, "y": {"datum": 8.9, "type": "quantitative", "axis": null}}},
  {"mark": {"type": "text", "text": "-7", "align": "left", "baseline": "bottom", "fontSize": 7, "dx": 17, "dy": -6, "color": "#707070"},
   "encoding": {"x": {"datum": {"year": 2019, "month": 11, "date": 1, "utc": true}, "type": "temporal", "axis": null}, "y": {"datum": 8.9, "type": "quantitative", "axis": null}}}
 ]},
{"width": 253, "height": 94, "data": {"name": "d"},
 "title": {"text": "ILLIz RMS amplitude 10 to 30 Hz"},
 "resolve": {"axis": {"x": "independent", "y": "independent"}},
 "layer": [
  {"mark": {"type": "area", "color": "#a6a6a6", "clip": true},
   "encoding": {"x": {"field": "t", "type": "temporal", "scale": {"type": "utc", "nice": false, "domain": [{"year": 2019, "month": 11, "date": 1, "utc": true}, {"year": 2020, "month": 5, "date": 25, "utc": true}]}, "axis": {"orient": "bottom", "labels": false, "title": null, "values": [{"year":2019,"month":11,"date":1,"utc":true},{"year":2019,"month":11,"date":26,"hours":18,"utc":true},{"year":2019,"month":12,"date":22,"hours":12,"utc":true},{"year":2020,"month":1,"date":17,"hours":6,"utc":true},{"year":2020,"month":2,"date":12,"utc":true},{"year":2020,"month":3,"date":8,"hours":18,"utc":true},{"year":2020,"month":4,"date":3,"hours":12,"utc":true},{"year":2020,"month":4,"date":29,"hours":6,"utc":true},{"year":2020,"month":5,"date":25,"utc":true}]}},
    "y": {"field": "Cu", "type": "quantitative", "scale": {"domain": [0, 1.63], "nice": false}, "axis": {"title": "RMS amp. (m/s)", "values": [0, 0.5, 1, 1.5], "format": "~g"}}}},
  {"mark": {"type": "rule", "color": "#a8a8a8", "strokeWidth": 1.2, "clip": true},
   "encoding": {"x": {"field": "t", "type": "temporal", "scale": {"type": "utc", "nice": false, "domain": [{"year": 2019, "month": 11, "date": 1, "utc": true}, {"year": 2020, "month": 5, "date": 25, "utc": true}]}, "axis": {"orient": "top", "labels": false, "title": null, "values": [{"year":2019,"month":11,"date":1,"utc":true},{"year":2019,"month":11,"date":26,"hours":18,"utc":true},{"year":2019,"month":12,"date":22,"hours":12,"utc":true},{"year":2020,"month":1,"date":17,"hours":6,"utc":true},{"year":2020,"month":2,"date":12,"utc":true},{"year":2020,"month":3,"date":8,"hours":18,"utc":true},{"year":2020,"month":4,"date":3,"hours":12,"utc":true},{"year":2020,"month":4,"date":29,"hours":6,"utc":true},{"year":2020,"month":5,"date":25,"utc":true}]}},
    "y": {"field": "Ch", "type": "quantitative", "scale": {"domain": [0, 1.63], "nice": false}, "axis": {"orient": "right", "labels": false, "title": null, "values": [0, 0.5, 1, 1.5]}},
    "y2": {"datum": 0}}},
  {"mark": {"type": "line", "color": "#000000", "strokeWidth": 2, "clip": true},
   "encoding": {"x": {"field": "t", "type": "temporal", "axis": null}, "y": {"field": "Cm", "type": "quantitative", "axis": null}}},
  {"mark": {"type": "rule", "color": "#262626", "strokeWidth": 1, "strokeDash": [3, 2]},
   "encoding": {"x": {"datum": {"year": 2020, "month": 3, "date": 10, "utc": true}, "type": "temporal", "axis": null}, "y": {"datum": 0, "type": "quantitative", "axis": null}, "y2": {"datum": 1.29}}},
  {"mark": {"type": "text", "text": "LD", "angle": -90, "align": "right", "baseline": "middle", "fontSize": 10, "dx": -4, "color": "#262626"},
   "encoding": {"x": {"datum": {"year": 2020, "month": 3, "date": 10, "utc": true}, "type": "temporal", "axis": null}, "y": {"datum": 1.63, "type": "quantitative", "axis": null}}},
  {"mark": {"type": "text", "text": "×10", "align": "left", "baseline": "bottom", "fontSize": 10, "dy": -2, "color": "#707070"},
   "encoding": {"x": {"datum": {"year": 2019, "month": 11, "date": 1, "utc": true}, "type": "temporal", "axis": null}, "y": {"datum": 1.63, "type": "quantitative", "axis": null}}},
  {"mark": {"type": "text", "text": "-6", "align": "left", "baseline": "bottom", "fontSize": 7, "dx": 17, "dy": -6, "color": "#707070"},
   "encoding": {"x": {"datum": {"year": 2019, "month": 11, "date": 1, "utc": true}, "type": "temporal", "axis": null}, "y": {"datum": 1.63, "type": "quantitative", "axis": null}}}
 ]},
{"width": 253, "height": 94, "data": {"name": "d"},
 "title": {"text": "IVCRz RMS amplitude 10 to 30 Hz"},
 "resolve": {"axis": {"x": "independent", "y": "independent"}},
 "layer": [
  {"mark": {"type": "area", "color": "#a6a6a6", "clip": true},
   "encoding": {"x": {"field": "t", "type": "temporal", "scale": {"type": "utc", "nice": false, "domain": [{"year": 2019, "month": 11, "date": 1, "utc": true}, {"year": 2020, "month": 5, "date": 25, "utc": true}]}, "axis": {"orient": "bottom", "labels": false, "title": null, "values": [{"year":2019,"month":11,"date":1,"utc":true},{"year":2019,"month":11,"date":26,"hours":18,"utc":true},{"year":2019,"month":12,"date":22,"hours":12,"utc":true},{"year":2020,"month":1,"date":17,"hours":6,"utc":true},{"year":2020,"month":2,"date":12,"utc":true},{"year":2020,"month":3,"date":8,"hours":18,"utc":true},{"year":2020,"month":4,"date":3,"hours":12,"utc":true},{"year":2020,"month":4,"date":29,"hours":6,"utc":true},{"year":2020,"month":5,"date":25,"utc":true}]}},
    "y": {"field": "Du", "type": "quantitative", "scale": {"domain": [0, 1.3], "nice": false}, "axis": {"title": "RMS amp. (m/s)", "values": [0, 0.5, 1], "format": "~g"}}}},
  {"mark": {"type": "rule", "color": "#a8a8a8", "strokeWidth": 1.2, "clip": true},
   "encoding": {"x": {"field": "t", "type": "temporal", "scale": {"type": "utc", "nice": false, "domain": [{"year": 2019, "month": 11, "date": 1, "utc": true}, {"year": 2020, "month": 5, "date": 25, "utc": true}]}, "axis": {"orient": "top", "labels": false, "title": null, "values": [{"year":2019,"month":11,"date":1,"utc":true},{"year":2019,"month":11,"date":26,"hours":18,"utc":true},{"year":2019,"month":12,"date":22,"hours":12,"utc":true},{"year":2020,"month":1,"date":17,"hours":6,"utc":true},{"year":2020,"month":2,"date":12,"utc":true},{"year":2020,"month":3,"date":8,"hours":18,"utc":true},{"year":2020,"month":4,"date":3,"hours":12,"utc":true},{"year":2020,"month":4,"date":29,"hours":6,"utc":true},{"year":2020,"month":5,"date":25,"utc":true}]}},
    "y": {"field": "Dh", "type": "quantitative", "scale": {"domain": [0, 1.3], "nice": false}, "axis": {"orient": "right", "labels": false, "title": null, "values": [0, 0.5, 1]}},
    "y2": {"datum": 0}}},
  {"mark": {"type": "line", "color": "#000000", "strokeWidth": 2, "clip": true},
   "encoding": {"x": {"field": "t", "type": "temporal", "axis": null}, "y": {"field": "Dm", "type": "quantitative", "axis": null}}},
  {"mark": {"type": "rule", "color": "#262626", "strokeWidth": 1, "strokeDash": [3, 2]},
   "encoding": {"x": {"datum": {"year": 2020, "month": 3, "date": 10, "utc": true}, "type": "temporal", "axis": null}, "y": {"datum": 0, "type": "quantitative", "axis": null}, "y2": {"datum": 1.03}}},
  {"mark": {"type": "text", "text": "LD", "angle": -90, "align": "right", "baseline": "middle", "fontSize": 10, "dx": -4, "color": "#262626"},
   "encoding": {"x": {"datum": {"year": 2020, "month": 3, "date": 10, "utc": true}, "type": "temporal", "axis": null}, "y": {"datum": 1.3, "type": "quantitative", "axis": null}}},
  {"mark": {"type": "text", "text": "×10", "align": "left", "baseline": "bottom", "fontSize": 10, "dy": -2, "color": "#707070"},
   "encoding": {"x": {"datum": {"year": 2019, "month": 11, "date": 1, "utc": true}, "type": "temporal", "axis": null}, "y": {"datum": 1.3, "type": "quantitative", "axis": null}}},
  {"mark": {"type": "text", "text": "-6", "align": "left", "baseline": "bottom", "fontSize": 7, "dx": 17, "dy": -6, "color": "#707070"},
   "encoding": {"x": {"datum": {"year": 2019, "month": 11, "date": 1, "utc": true}, "type": "temporal", "axis": null}, "y": {"datum": 1.3, "type": "quantitative", "axis": null}}}
 ]},
{"width": 253, "height": 94, "data": {"name": "d"},
 "title": {"text": "MSRUz RMS amplitude 10 to 30 Hz"},
 "resolve": {"axis": {"x": "independent", "y": "independent"}},
 "layer": [
  {"mark": {"type": "area", "color": "#a6a6a6", "clip": true},
   "encoding": {"x": {"field": "t", "type": "temporal", "scale": {"type": "utc", "nice": false, "domain": [{"year": 2019, "month": 11, "date": 1, "utc": true}, {"year": 2020, "month": 5, "date": 25, "utc": true}]}, "axis": {"orient": "bottom", "labels": false, "title": null, "values": [{"year":2019,"month":11,"date":1,"utc":true},{"year":2019,"month":11,"date":26,"hours":18,"utc":true},{"year":2019,"month":12,"date":22,"hours":12,"utc":true},{"year":2020,"month":1,"date":17,"hours":6,"utc":true},{"year":2020,"month":2,"date":12,"utc":true},{"year":2020,"month":3,"date":8,"hours":18,"utc":true},{"year":2020,"month":4,"date":3,"hours":12,"utc":true},{"year":2020,"month":4,"date":29,"hours":6,"utc":true},{"year":2020,"month":5,"date":25,"utc":true}]}},
    "y": {"field": "Eu", "type": "quantitative", "scale": {"domain": [0, 3.05], "nice": false}, "axis": {"title": "RMS amp. (m/s)", "values": [0, 1, 2, 3], "format": "~g"}}}},
  {"mark": {"type": "rule", "color": "#a8a8a8", "strokeWidth": 1.2, "clip": true},
   "encoding": {"x": {"field": "t", "type": "temporal", "scale": {"type": "utc", "nice": false, "domain": [{"year": 2019, "month": 11, "date": 1, "utc": true}, {"year": 2020, "month": 5, "date": 25, "utc": true}]}, "axis": {"orient": "top", "labels": false, "title": null, "values": [{"year":2019,"month":11,"date":1,"utc":true},{"year":2019,"month":11,"date":26,"hours":18,"utc":true},{"year":2019,"month":12,"date":22,"hours":12,"utc":true},{"year":2020,"month":1,"date":17,"hours":6,"utc":true},{"year":2020,"month":2,"date":12,"utc":true},{"year":2020,"month":3,"date":8,"hours":18,"utc":true},{"year":2020,"month":4,"date":3,"hours":12,"utc":true},{"year":2020,"month":4,"date":29,"hours":6,"utc":true},{"year":2020,"month":5,"date":25,"utc":true}]}},
    "y": {"field": "Eh", "type": "quantitative", "scale": {"domain": [0, 3.05], "nice": false}, "axis": {"orient": "right", "labels": false, "title": null, "values": [0, 1, 2, 3]}},
    "y2": {"datum": 0}}},
  {"mark": {"type": "line", "color": "#000000", "strokeWidth": 2, "clip": true},
   "encoding": {"x": {"field": "t", "type": "temporal", "axis": null}, "y": {"field": "Em", "type": "quantitative", "axis": null}}},
  {"mark": {"type": "rule", "color": "#262626", "strokeWidth": 1, "strokeDash": [3, 2]},
   "encoding": {"x": {"datum": {"year": 2020, "month": 3, "date": 10, "utc": true}, "type": "temporal", "axis": null}, "y": {"datum": 0, "type": "quantitative", "axis": null}, "y2": {"datum": 2.4}}},
  {"mark": {"type": "text", "text": "LD", "angle": -90, "align": "right", "baseline": "middle", "fontSize": 10, "dx": -4, "color": "#262626"},
   "encoding": {"x": {"datum": {"year": 2020, "month": 3, "date": 10, "utc": true}, "type": "temporal", "axis": null}, "y": {"datum": 3.05, "type": "quantitative", "axis": null}}},
  {"mark": {"type": "text", "text": "×10", "align": "left", "baseline": "bottom", "fontSize": 10, "dy": -2, "color": "#707070"},
   "encoding": {"x": {"datum": {"year": 2019, "month": 11, "date": 1, "utc": true}, "type": "temporal", "axis": null}, "y": {"datum": 3.05, "type": "quantitative", "axis": null}}},
  {"mark": {"type": "text", "text": "-7", "align": "left", "baseline": "bottom", "fontSize": 7, "dx": 17, "dy": -6, "color": "#707070"},
   "encoding": {"x": {"datum": {"year": 2019, "month": 11, "date": 1, "utc": true}, "type": "temporal", "axis": null}, "y": {"datum": 3.05, "type": "quantitative", "axis": null}}}
 ]},
{"width": 253, "height": 94, "data": {"name": "d"},
 "title": {"text": "MUCRz RMS amplitude 10 to 30 Hz"},
 "resolve": {"axis": {"x": "independent", "y": "independent"}},
 "layer": [
  {"mark": {"type": "area", "color": "#a6a6a6", "clip": true},
   "encoding": {"x": {"field": "t", "type": "temporal", "scale": {"type": "utc", "nice": false, "domain": [{"year": 2019, "month": 11, "date": 1, "utc": true}, {"year": 2020, "month": 5, "date": 25, "utc": true}]}, "axis": {"orient": "bottom", "title": null, "format": "%d/%b/%Y", "labelAngle": -45, "labelPadding": 5, "labelFontSize": 10.5, "values": [{"year":2019,"month":11,"date":1,"utc":true},{"year":2019,"month":11,"date":26,"hours":18,"utc":true},{"year":2019,"month":12,"date":22,"hours":12,"utc":true},{"year":2020,"month":1,"date":17,"hours":6,"utc":true},{"year":2020,"month":2,"date":12,"utc":true},{"year":2020,"month":3,"date":8,"hours":18,"utc":true},{"year":2020,"month":4,"date":3,"hours":12,"utc":true},{"year":2020,"month":4,"date":29,"hours":6,"utc":true},{"year":2020,"month":5,"date":25,"utc":true}]}},
    "y": {"field": "Fu", "type": "quantitative", "scale": {"domain": [0, 1.28], "nice": false}, "axis": {"title": "RMS amp. (m/s)", "values": [0, 0.5, 1], "format": "~g"}}}},
  {"mark": {"type": "rule", "color": "#a8a8a8", "strokeWidth": 1.2, "clip": true},
   "encoding": {"x": {"field": "t", "type": "temporal", "scale": {"type": "utc", "nice": false, "domain": [{"year": 2019, "month": 11, "date": 1, "utc": true}, {"year": 2020, "month": 5, "date": 25, "utc": true}]}, "axis": {"orient": "top", "labels": false, "title": null, "values": [{"year":2019,"month":11,"date":1,"utc":true},{"year":2019,"month":11,"date":26,"hours":18,"utc":true},{"year":2019,"month":12,"date":22,"hours":12,"utc":true},{"year":2020,"month":1,"date":17,"hours":6,"utc":true},{"year":2020,"month":2,"date":12,"utc":true},{"year":2020,"month":3,"date":8,"hours":18,"utc":true},{"year":2020,"month":4,"date":3,"hours":12,"utc":true},{"year":2020,"month":4,"date":29,"hours":6,"utc":true},{"year":2020,"month":5,"date":25,"utc":true}]}},
    "y": {"field": "Fh", "type": "quantitative", "scale": {"domain": [0, 1.28], "nice": false}, "axis": {"orient": "right", "labels": false, "title": null, "values": [0, 0.5, 1]}},
    "y2": {"datum": 0}}},
  {"mark": {"type": "line", "color": "#000000", "strokeWidth": 2, "clip": true},
   "encoding": {"x": {"field": "t", "type": "temporal", "axis": null}, "y": {"field": "Fm", "type": "quantitative", "axis": null}}},
  {"mark": {"type": "rule", "color": "#262626", "strokeWidth": 1, "strokeDash": [3, 2]},
   "encoding": {"x": {"datum": {"year": 2020, "month": 3, "date": 10, "utc": true}, "type": "temporal", "axis": null}, "y": {"datum": 0, "type": "quantitative", "axis": null}, "y2": {"datum": 1.01}}},
  {"mark": {"type": "text", "text": "LD", "angle": -90, "align": "right", "baseline": "middle", "fontSize": 10, "dx": -4, "color": "#262626"},
   "encoding": {"x": {"datum": {"year": 2020, "month": 3, "date": 10, "utc": true}, "type": "temporal", "axis": null}, "y": {"datum": 1.28, "type": "quantitative", "axis": null}}},
  {"mark": {"type": "text", "text": "×10", "align": "left", "baseline": "bottom", "fontSize": 10, "dy": -2, "color": "#707070"},
   "encoding": {"x": {"datum": {"year": 2019, "month": 11, "date": 1, "utc": true}, "type": "temporal", "axis": null}, "y": {"datum": 1.28, "type": "quantitative", "axis": null}}},
  {"mark": {"type": "text", "text": "-7", "align": "left", "baseline": "bottom", "fontSize": 7, "dx": 17, "dy": -6, "color": "#707070"},
   "encoding": {"x": {"datum": {"year": 2019, "month": 11, "date": 1, "utc": true}, "type": "temporal", "axis": null}, "y": {"datum": 1.28, "type": "quantitative", "axis": null}}}
 ]}
]
}
